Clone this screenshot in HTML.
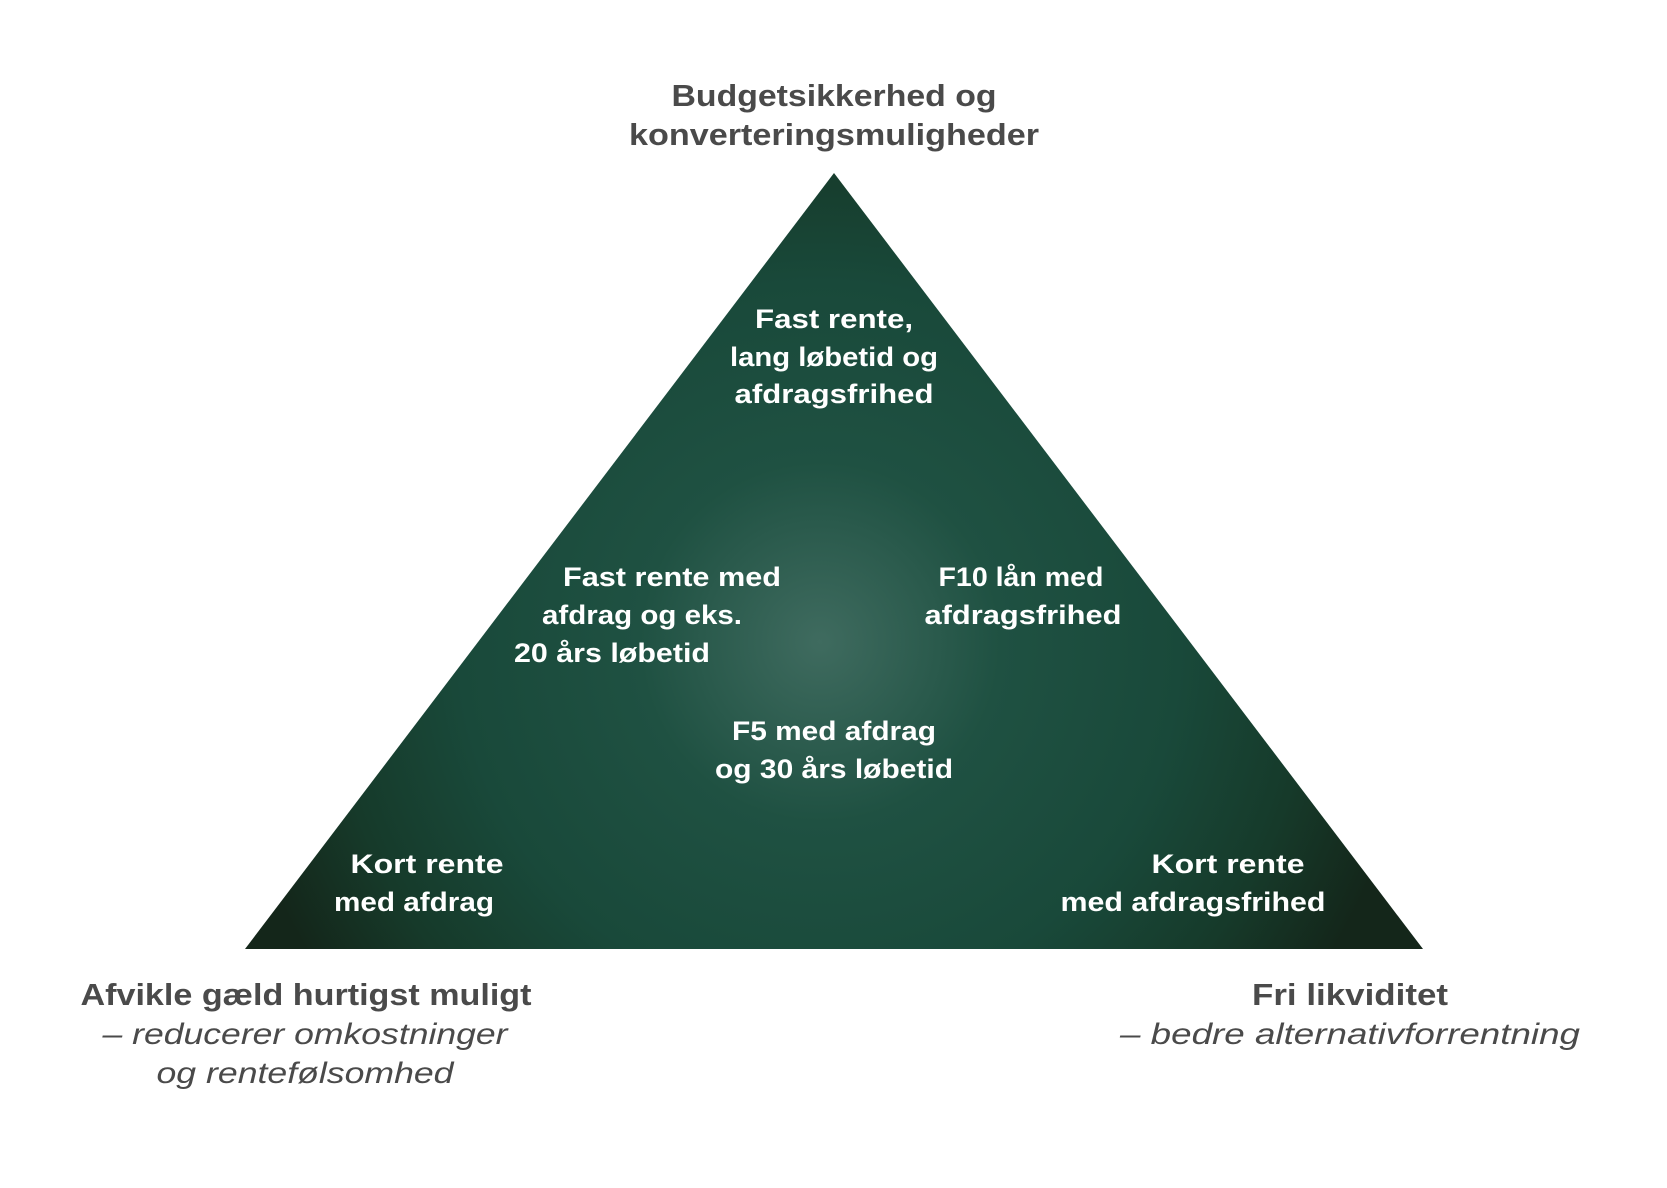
<!DOCTYPE html>
<html><head><meta charset="utf-8"><style>html,body{margin:0;padding:0;background:#fff}svg{display:block}</style></head>
<body>
<svg width="1667" height="1188" viewBox="0 0 1667 1188" xmlns="http://www.w3.org/2000/svg">
<defs>
<radialGradient id="g" gradientUnits="userSpaceOnUse" cx="820" cy="642" r="600">
<stop offset="0" stop-color="#3f6b5f"/>
<stop offset="0.3" stop-color="#1f5142"/>
<stop offset="0.6" stop-color="#19493a"/>
<stop offset="0.82" stop-color="#163a2a"/>
<stop offset="1" stop-color="#14261a"/>
</radialGradient>
</defs>
<polygon points="834,173 245,949 1423,949" fill="url(#g)"/>
<g font-family="Liberation Sans, sans-serif" font-weight="bold" fill="#4a4a4a" font-size="31" text-anchor="middle">
<text x="834" y="106" textLength="325" lengthAdjust="spacingAndGlyphs">Budgetsikkerhed og</text>
<text x="834" y="145" textLength="410" lengthAdjust="spacingAndGlyphs">konverteringsmuligheder</text>
<text x="306" y="1005" textLength="451" lengthAdjust="spacingAndGlyphs">Afvikle gæld hurtigst muligt</text>
<text x="1350" y="1005" textLength="196" lengthAdjust="spacingAndGlyphs">Fri likviditet</text>
</g>
<g font-family="Liberation Sans, sans-serif" font-style="italic" fill="#4a4a4a" font-size="30" text-anchor="middle">
<text x="305" y="1044" textLength="405" lengthAdjust="spacingAndGlyphs">– reducerer omkostninger</text>
<text x="305" y="1083" textLength="297" lengthAdjust="spacingAndGlyphs">og rentefølsomhed</text>
<text x="1350" y="1044" textLength="460" lengthAdjust="spacingAndGlyphs">– bedre alternativforrentning</text>
</g>
<g font-family="Liberation Sans, sans-serif" font-weight="bold" fill="#fff" font-size="27">
<g text-anchor="middle">
<text x="834" y="328" textLength="158" lengthAdjust="spacingAndGlyphs">Fast rente,</text>
<text x="834" y="366" textLength="208" lengthAdjust="spacingAndGlyphs">lang løbetid og</text>
<text x="834" y="403" textLength="199" lengthAdjust="spacingAndGlyphs">afdragsfrihed</text>
<text x="1021" y="586" textLength="165" lengthAdjust="spacingAndGlyphs">F10 lån med</text>
<text x="1023" y="624" textLength="197" lengthAdjust="spacingAndGlyphs">afdragsfrihed</text>
<text x="834" y="740" textLength="204" lengthAdjust="spacingAndGlyphs">F5 med afdrag</text>
<text x="834" y="778" textLength="238" lengthAdjust="spacingAndGlyphs">og 30 års løbetid</text>
<text x="427" y="873" textLength="153" lengthAdjust="spacingAndGlyphs">Kort rente</text>
<text x="414" y="911" textLength="160" lengthAdjust="spacingAndGlyphs">med afdrag</text>
<text x="1228" y="873" textLength="153" lengthAdjust="spacingAndGlyphs">Kort rente</text>
<text x="1193" y="911" textLength="265" lengthAdjust="spacingAndGlyphs">med afdragsfrihed</text>
</g>
<text x="563" y="586" textLength="218" lengthAdjust="spacingAndGlyphs">Fast rente med</text>
<text x="542" y="624" textLength="200" lengthAdjust="spacingAndGlyphs">afdrag og eks.</text>
<text x="514" y="662" textLength="196" lengthAdjust="spacingAndGlyphs">20 års løbetid</text>
</g>
</svg>
</body></html>
